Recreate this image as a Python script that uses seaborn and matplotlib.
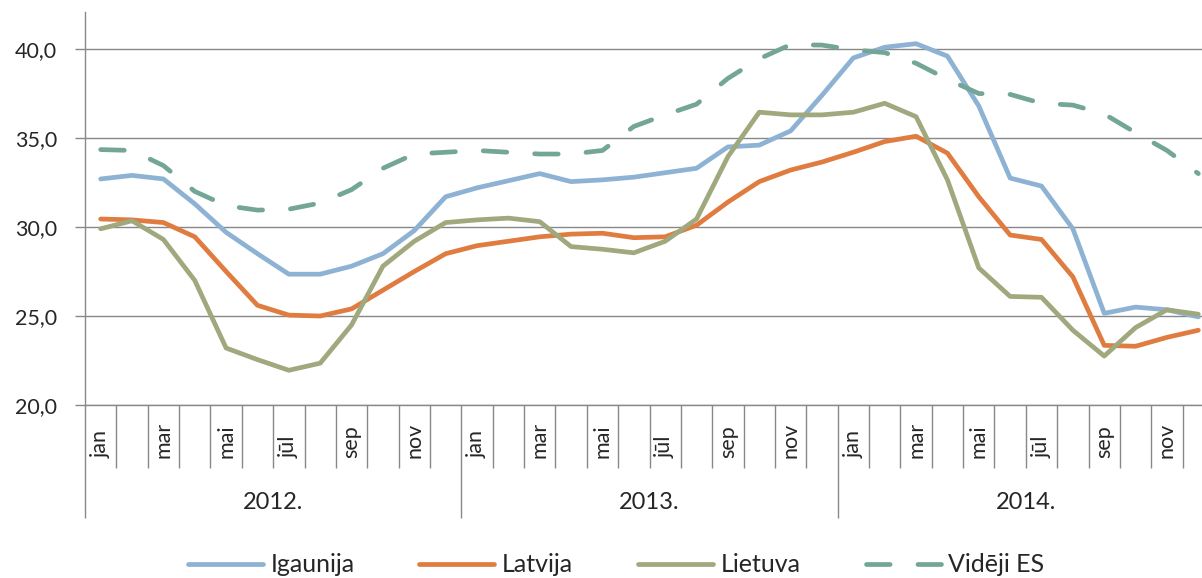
import pandas as pd
import matplotlib.pyplot as plt
import matplotlib.transforms as mtransforms
from matplotlib.lines import Line2D
import seaborn as sns

months = ["jan", "feb", "mar", "apr", "mai", "jūn", "jūl", "aug", "sep", "okt", "nov", "dec"]
years = ["2012.", "2013.", "2014."]

igaunija = [32.7, 32.9, 32.7, 31.3, 29.7, 28.5, 27.35, 27.35, 27.8, 28.5, 29.8, 31.7,
            32.2, 32.6, 33.0, 32.55, 32.65, 32.8, 33.05, 33.3, 34.5, 34.6, 35.4, 37.4,
            39.5, 40.1, 40.3, 39.6, 36.8, 32.75, 32.3, 29.9, 25.15, 25.5, 25.35, 24.95]
latvija = [30.45, 30.4, 30.25, 29.45, 27.5, 25.6, 25.05, 25.0, 25.4, 26.45, 27.5, 28.5,
           28.95, 29.2, 29.45, 29.6, 29.65, 29.4, 29.45, 30.1, 31.4, 32.55, 33.2, 33.65,
           34.2, 34.8, 35.1, 34.15, 31.7, 29.55, 29.3, 27.2, 23.35, 23.3, 23.8, 24.2]
lietuva = [29.9, 30.35, 29.3, 27.0, 23.2, 22.55, 21.95, 22.35, 24.5, 27.8, 29.2, 30.25,
           30.4, 30.5, 30.3, 28.9, 28.75, 28.55, 29.2, 30.45, 33.95, 36.45, 36.3, 36.3,
           36.45, 36.95, 36.2, 32.65, 27.7, 26.1, 26.05, 24.2, 22.75, 24.35, 25.35, 25.1]
videji_es = [34.35, 34.3, 33.45, 32.0, 31.2, 30.95, 31.0, 31.35, 32.1, 33.3, 34.1, 34.2,
             34.3, 34.2, 34.1, 34.1, 34.3, 35.65, 36.3, 36.9, 38.35, 39.45, 40.25, 40.22,
             39.95, 39.8, 39.2, 38.3, 37.5, 37.45, 36.95, 36.85, 36.35, 35.3, 34.3, 33.0]

series = {"Igaunija": igaunija, "Latvija": latvija, "Lietuva": lietuva, "Vidēji ES": videji_es}
rows = []
for name, vals in series.items():
    for i, v in enumerate(vals):
        rows.append({"idx": i, "valsts": name, "vertiba": v})
df = pd.DataFrame(rows)

palette = {"Igaunija": "#8EB2D3", "Latvija": "#E07C40", "Lietuva": "#A0A87D", "Vidēji ES": "#74A698"}
dashes = {"Igaunija": "", "Latvija": "", "Lietuva": "", "Vidēji ES": (5, 5.9)}
gray = "#888888"

sns.set_style("white")
plt.rcParams["font.family"] = ["Lato", "DejaVu Sans"]

fig = plt.figure(figsize=(12.02, 5.78), dpi=100)
ax = fig.add_axes([85 / 1202, 173 / 578, 1129 / 1202, 393 / 578])

sns.lineplot(data=df, x="idx", y="vertiba", hue="valsts", style="valsts",
             palette=palette, dashes=dashes, linewidth=3.4, ax=ax, legend=False)
for line in ax.lines:
    line.set_dash_capstyle("round")
    line.set_solid_capstyle("round")

# y axis
ax.set_ylim(20, 42.08)
yt = [20, 25, 30, 35, 40]
ax.set_yticks(yt)
ax.set_yticklabels([f"{v:.1f}".replace(".", ",") for v in yt])
ax.tick_params(axis="y", length=7, width=1, color=gray, pad=13, labelsize=15.5, left=True)
ax.yaxis.grid(True, color=gray, linewidth=1)
ax.xaxis.grid(False)

# x axis: category boundaries
ax.set_xlim(-0.5, 35.5)
ax.set_xticks([-0.5, 11.5, 23.5, 35.5])
ax.set_xticks([b - 0.5 for b in range(36) if b % 12 != 0], minor=True)
ax.tick_params(axis="x", which="major", length=81, width=1, color=gray, labelbottom=False, bottom=True)
ax.tick_params(axis="x", which="minor", length=45, width=1, color=gray, labelbottom=False, bottom=True)
ax.set_xlabel("")
ax.set_ylabel("")

for s in ["top", "right"]:
    ax.spines[s].set_visible(False)
for s in ["left", "bottom"]:
    ax.spines[s].set_color(gray)
    ax.spines[s].set_linewidth(1)

trans = mtransforms.blended_transform_factory(ax.transData, ax.transAxes)
for i in range(36):
    if i % 2 == 0:
        ax.text(i, -0.135, months[i % 12], rotation=90, ha="center", va="bottom",
                fontsize=15.5, transform=trans, clip_on=False)
for k, y in enumerate(years):
    ax.text(12 * k + 5.5, -0.249, y, ha="center", va="center", fontsize=17,
            transform=trans, clip_on=False)

handles = [Line2D([], [], color=palette[n], linewidth=3.4, solid_capstyle="round",
                  dash_capstyle="round",
                  linestyle=(0, dashes[n]) if dashes[n] else "-") for n in series]
fig.legend(handles, list(series), loc="center", bbox_to_anchor=(0.5125, 0.0225), ncol=4,
           frameon=False, fontsize=18, handlelength=3.0, handletextpad=0.3, columnspacing=2.6)

fig.savefig("out.png", dpi=100)
